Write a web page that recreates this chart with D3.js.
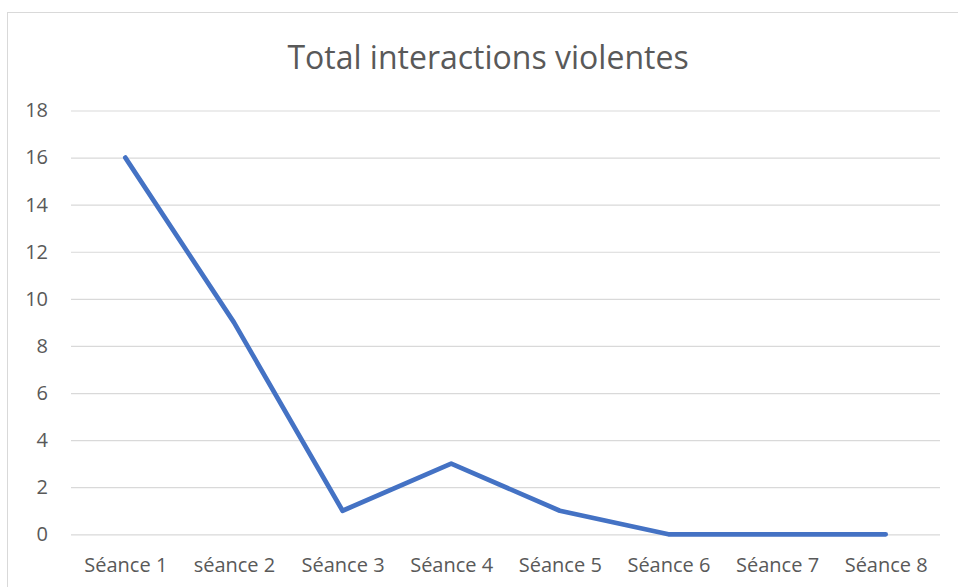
<!DOCTYPE html>
<html>
<head>
<meta charset="utf-8">
<script src="https://cdn.jsdelivr.net/npm/d3@7"></script>
<style>
  body { margin: 0; background: #fff; }
  text { font-family: "Open Sans", sans-serif; fill: #595959; }
</style>
</head>
<body>
<div id="chart"></div>
<script>
//data
var categories = ["Séance 1", "séance 2", "Séance 3", "Séance 4", "Séance 5", "Séance 6", "Séance 7", "Séance 8"];
var values = [16, 9, 1, 3, 1, 0, 0, 0];
var yTicks = [0, 2, 4, 6, 8, 10, 12, 14, 16, 18];
var title = "Total interactions violentes";

//define outer size
var outerWidth = 958;
var outerHeight = 587;

//define margins of the plot area
var margin = { top: 110.5, right: 18, bottom: 52.7, left: 71 };

var innerWidth = outerWidth - (margin.left + margin.right);
var innerHeight = outerHeight - (margin.top + margin.bottom);

var root = d3
  .select("#chart")
  .append("svg")
  .attr("width", outerWidth)
  .attr("height", outerHeight);

//chart border
root
  .append("rect")
  .attr("x", 7.5)
  .attr("y", 12.5)
  .attr("width", outerWidth)
  .attr("height", outerHeight)
  .attr("fill", "none")
  .attr("stroke", "#d9d9d9")
  .attr("stroke-width", 1);

//title
root
  .append("text")
  .attr("x", 488)
  .attr("y", 69)
  .attr("text-anchor", "middle")
  .style("font-size", "32px")
  .text(title);

var svg = root
  .append("g")
  .attr("transform", "translate(" + margin.left + "," + margin.top + ")");

//scales
var xScale = d3
  .scalePoint()
  .domain(categories)
  .range([0, innerWidth])
  .padding(0.5);

var yScale = d3
  .scaleLinear()
  .domain([0, 18])
  .range([innerHeight, 0]);

//y axis with gridlines
var yAxis = d3
  .axisLeft(yScale)
  .tickValues(yTicks)
  .tickSize(-innerWidth)
  .tickPadding(23);

svg
  .append("g")
  .attr("class", "y axis")
  .call(yAxis)
  .call(function(g) {
    g.select(".domain").remove();
    g.selectAll(".tick line").attr("stroke", "#d9d9d9").attr("stroke-width", 1.2);
    g.selectAll(".tick text")
      .attr("fill", "#595959")
      .style("font-size", "20px")
      .style("font-family", "'Open Sans', sans-serif");
  });

//x axis
var xAxis = d3.axisBottom(xScale).tickSize(0).tickPadding(24);

svg
  .append("g")
  .attr("class", "x axis")
  .attr("transform", "translate(0," + innerHeight + ")")
  .call(xAxis)
  .call(function(g) {
    g.select(".domain").remove();
    g.selectAll(".tick text")
      .attr("fill", "#595959")
      .style("font-size", "20px")
      .style("font-family", "'Open Sans', sans-serif");
  });

//line
var line = d3
  .line()
  .x(function(d, i) {
    return xScale(categories[i]);
  })
  .y(function(d) {
    return yScale(d);
  });

svg
  .append("path")
  .datum(values)
  .attr("d", line)
  .attr("fill", "none")
  .attr("stroke", "#4472c4")
  .attr("stroke-width", 4.7)
  .attr("stroke-linecap", "round")
  .attr("stroke-linejoin", "round");
</script>
</body>
</html>
